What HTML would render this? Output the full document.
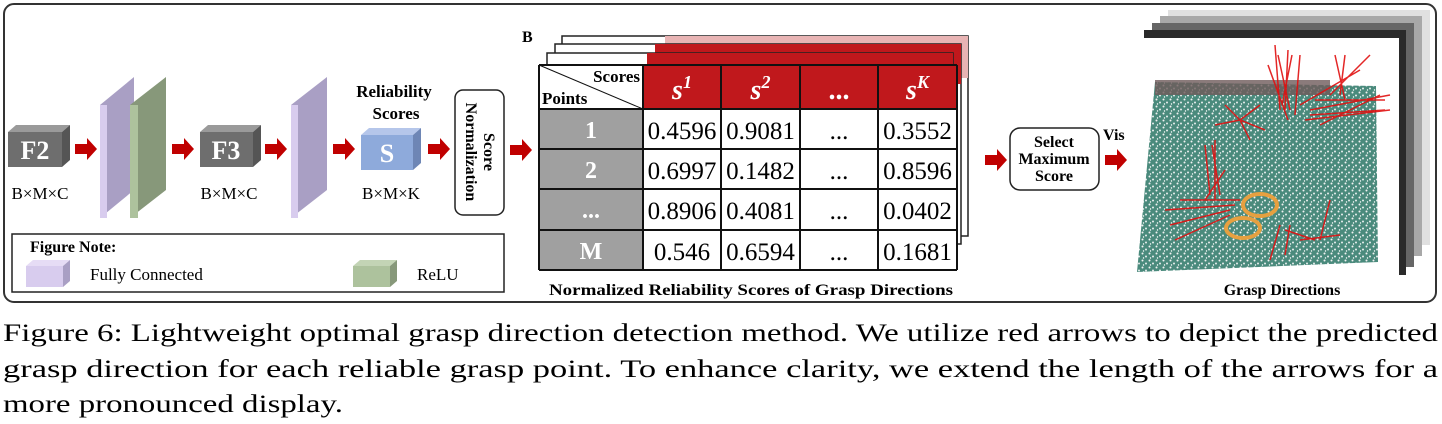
<!DOCTYPE html>
<html><head><meta charset="utf-8"><style>
html,body{margin:0;padding:0;background:#fff;}
svg{display:block;font-family:"Liberation Serif",serif;}
</style></head><body>
<svg width="1442" height="424" viewBox="0 0 1442 424">
<defs>
<g id="arr"><path d="M0,-5 H12 V-11 L22,0 L12,11 V5 H0 Z" fill="#c00000"/></g>
<pattern id="speck" width="7" height="7" patternUnits="userSpaceOnUse">
<rect width="7" height="7" fill="#4a8a7c"/>
<circle cx="1.5" cy="1.5" r="1" fill="#f2f2f2"/><circle cx="5" cy="4.5" r="1" fill="#e8eeee"/><circle cx="2.5" cy="6" r="0.7" fill="#fff"/>
</pattern>
</defs>
<rect x="4" y="4" width="1432" height="298" rx="10" fill="#fff" stroke="#333" stroke-width="2"/>

<g>
<polygon points="8,132 16,125 70,125 62,132" fill="#9a9a9a"/>
<polygon points="62,132 70,125 70,160 62,167" fill="#555"/>
<rect x="8" y="132" width="54" height="35" fill="#6e6e6e"/>
<text x="35" y="159" fill="#fff" font-size="26" font-weight="bold" text-anchor="middle">F2</text>
</g>
<text x="40" y="199" font-size="17" text-anchor="middle">B×M×C</text>
<use href="#arr" x="75" y="149"/>
<g>
<polygon points="100,105 134,77 134,190 100,218" fill="#a99fc4"/>
<rect x="100" y="105" width="7" height="113" fill="#d8ccee"/>
</g>
<g>
<polygon points="130,105 166,77 166,190 130,218" fill="#87987a"/>
<rect x="130" y="105" width="8" height="113" fill="#adc29d"/>
</g>
<use href="#arr" x="172" y="149"/>
<g>
<polygon points="200,132 208,125 261,125 253,132" fill="#9a9a9a"/>
<polygon points="253,132 261,125 261,160 253,167" fill="#555"/>
<rect x="200" y="132" width="53" height="35" fill="#6e6e6e"/>
<text x="226" y="159" fill="#fff" font-size="26" font-weight="bold" text-anchor="middle">F3</text>
</g>
<text x="229" y="199" font-size="17" text-anchor="middle">B×M×C</text>
<use href="#arr" x="265" y="149"/>
<g>
<polygon points="291,105 327,77 327,190 291,218" fill="#a99fc4"/>
<rect x="291" y="105" width="7" height="113" fill="#d8ccee"/>
</g>
<use href="#arr" x="333" y="149"/>
<text x="394" y="97" font-size="17" font-weight="bold" text-anchor="middle">Reliability</text>
<text x="396" y="119" font-size="17" font-weight="bold" text-anchor="middle">Scores</text>
<g>
<polygon points="361,135 369,128 421,128 413,135" fill="#b5c6ea"/>
<polygon points="413,135 421,128 421,163 413,170" fill="#6e86b5"/>
<rect x="361" y="135" width="52" height="35" fill="#8eaadb"/>
<text x="387" y="162" fill="#fff" font-size="26" font-weight="bold" text-anchor="middle">S</text>
</g>
<text x="391" y="199" font-size="17" text-anchor="middle">B×M×K</text>
<use href="#arr" x="428" y="149"/>
<rect x="455" y="90" width="49" height="125" rx="8" fill="#fff" stroke="#222" stroke-width="1.5"/>
<g transform="translate(479,152) rotate(90)">
<text x="0" y="-5" font-size="16" font-weight="bold" text-anchor="middle">Score</text>
<text x="0" y="13" font-size="16" font-weight="bold" text-anchor="middle">Normalization</text>
</g>
<rect x="12" y="234" width="492" height="58" fill="#fff" stroke="#222" stroke-width="1.5"/>
<text x="30" y="252" font-size="16" font-weight="bold">Figure Note:</text>
<g>
<polygon points="26,266 33,260 70,260 63,266" fill="#e6dcf5"/><polygon points="63,266 70,260 70,281 63,287" fill="#a99fc4"/><rect x="26" y="266" width="37" height="21" fill="#d8ccee"/></g>
<text x="90" y="280" font-size="17">Fully Connected</text>
<g>
<polygon points="353,266 360,260 397,260 390,266" fill="#c3d4b5"/><polygon points="390,266 397,260 397,281 390,287" fill="#87987a"/><rect x="353" y="266" width="37" height="21" fill="#adc29d"/></g>
<text x="417" y="280" font-size="17">ReLU</text>

<use href="#arr" x="510" y="150"/>
<text x="522" y="42" font-size="16" font-weight="bold">B</text>
<g>
<rect x="562" y="36" width="406" height="200" fill="#fff" stroke="#222" stroke-width="1.5"/>
<rect x="665" y="36" width="303" height="42" fill="#e8b4b4"/>
<rect x="555" y="44" width="406" height="200" fill="#fff" stroke="#222" stroke-width="1.5"/>
<rect x="655" y="44" width="306" height="40" fill="#c0181c"/>
<rect x="547" y="53" width="406" height="205" fill="#fff" stroke="#222" stroke-width="1.5"/>
<rect x="647" y="53" width="306" height="40" fill="#c0181c"/>
</g>
<g id="table"></g>
<text x="751" y="295" font-size="16" font-weight="bold" text-anchor="middle" textLength="404" lengthAdjust="spacingAndGlyphs">Normalized  Reliability  Scores of Grasp Directions</text>

<use href="#arr" x="985" y="160"/>
<rect x="1010" y="128" width="89" height="62" rx="10" fill="#fff" stroke="#222" stroke-width="1.5"/>
<text x="1054" y="147" font-size="16" font-weight="bold" text-anchor="middle">Select</text>
<text x="1054" y="164" font-size="16" font-weight="bold" text-anchor="middle">Maximum</text>
<text x="1054" y="181" font-size="16" font-weight="bold" text-anchor="middle">Score</text>
<text x="1103" y="140" font-size="16" font-weight="bold">Vis</text>
<use href="#arr" x="1105" y="160"/>
<g>
<rect x="1168" y="10" width="262" height="235" fill="#e0e0e0"/>
<rect x="1160" y="16" width="262" height="240" fill="#a8a8a8"/>
<rect x="1152" y="23" width="262" height="244" fill="#666"/>
<rect x="1144" y="30" width="262" height="245" fill="#2a2a2a"/>
<rect x="1135" y="38" width="264" height="237" fill="#fff"/>
<polygon points="1155,82 1376,86 1378,262 1137,272" fill="url(#speck)"/>
<rect x="1155" y="80" width="175" height="15" fill="#6e5a5a" opacity="0.8"/>
<g stroke="#e01010" stroke-width="1.5" opacity="0.9">
<path d="M1280,110 l-5,-65 M1285,110 l3,-60 M1290,110 l-12,-55 M1282,105 l10,-50 M1288,120 l-20,-55 M1295,115 l5,-60"/>
<path d="M1310,110 l80,-15 M1305,120 l85,-10 M1315,100 l70,0 M1320,125 l60,-30 M1330,95 l40,-40 M1340,95 l5,-40 M1345,100 l-10,-45 M1300,105 l60,-35 M1310,115 l75,-5"/>
<path d="M1240,120 l20,-15 M1240,120 l-25,5 M1240,120 l10,20 M1240,120 l-15,-15 M1240,120 l25,10"/>
<path d="M1205,200 l20,-30 M1210,195 l-5,-50 M1215,200 l0,-60 M1220,195 l-8,-50"/>
<path d="M1230,210 l-60,15 M1235,205 l-70,5 M1230,215 l-55,25 M1240,200 l-60,0"/>
<path d="M1280,225 l-10,35 M1285,230 l30,10 M1290,225 l-5,30 M1320,240 l10,-40 M1300,240 l40,-5"/>
</g>
<ellipse cx="1260" cy="205" rx="17" ry="11" fill="none" stroke="#e6a040" stroke-width="4"/><ellipse cx="1243" cy="228" rx="17" ry="10" fill="none" stroke="#e6a040" stroke-width="4"/>
</g>
<text x="1282" y="295" font-size="16" font-weight="bold" text-anchor="middle">Grasp Directions</text>

<g font-size="25">
<text x="3" y="341" textLength="1435" lengthAdjust="spacingAndGlyphs">Figure 6: Lightweight optimal grasp direction detection method. We utilize red arrows to depict the predicted</text>
<text x="3" y="377" textLength="1435" lengthAdjust="spacingAndGlyphs">grasp direction for each reliable grasp point. To enhance clarity, we extend the length of the arrows for a</text>
<text x="3" y="412" textLength="340" lengthAdjust="spacingAndGlyphs">more pronounced display.</text>
</g>
</svg>
<script>
const rowLabels=["1","2","...","M"];
const colLabels=["1","2","...","K"];
const values=[["0.4596","0.9081","...","0.3552"],["0.6997","0.1482","...","0.8596"],["0.8906","0.4081","...","0.0402"],["0.546","0.6594","...","0.1681"]];
const NS="http://www.w3.org/2000/svg";
const g=document.getElementById('table');
const cx=[539,643,721,800,878,957], ry=[65,109,149,189,230,270];
function mk(t,a,txt){const e=document.createElementNS(NS,t);for(const k in a)e.setAttribute(k,a[k]);if(txt!=null)e.textContent=txt;g.appendChild(e);return e;}
mk('rect',{x:539,y:65,width:418,height:205,fill:'#fff'});
mk('rect',{x:643,y:65,width:314,height:44,fill:'#c0181c'});
mk('rect',{x:539,y:109,width:104,height:161,fill:'#a0a0a0'});
colLabels.forEach((c,i)=>{
 const t=mk('text',{x:(cx[i+1]+cx[i+2])/2,y:99,fill:'#fff','font-size':28,'font-weight':'bold','text-anchor':'middle','font-style':c==='...'?'normal':'italic'});
 
 
 if(c==='...'){t.textContent='...';}else{t.textContent='s';const s=document.createElementNS(NS,'tspan');s.setAttribute('font-size','18');s.setAttribute('dy','-11');s.textContent=c;t.appendChild(s);}
});
rowLabels.forEach((r,i)=>{
 const t=mk('text',{x:591,y:ry[i+1]+29,fill:'#fff','font-size':24,'font-weight':'bold','text-anchor':'middle'},r);
 
 
 values[i].forEach((v,j)=>{
  const c=mk('text',{x:(cx[j+1]+cx[j+2])/2,y:ry[i+1]+30,'font-size':25,'text-anchor':'middle'},v);
  
  
 });
});
cx.forEach(x=>mk('line',{x1:x,y1:65,x2:x,y2:270,stroke:'#111','stroke-width':2}));
ry.forEach(y=>mk('line',{x1:539,y1:y,x2:957,y2:y,stroke:'#111','stroke-width':2}));
mk('line',{x1:539,y1:65,x2:643,y2:109,stroke:'#111','stroke-width':1});
mk('text',{x:640,y:82,'font-size':17,'font-weight':'bold','text-anchor':'end'},'Scores');
mk('text',{x:542,y:104,'font-size':17,'font-weight':'bold'},'Points');
</script>
</body></html>
